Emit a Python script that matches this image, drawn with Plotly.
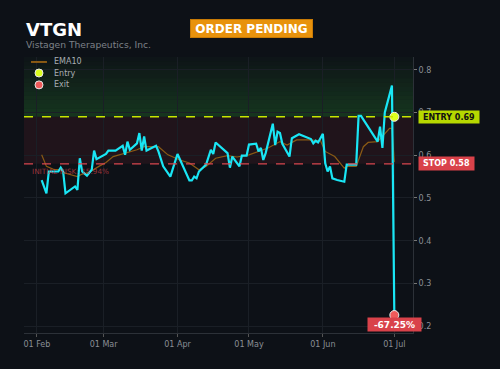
import plotly.graph_objects as go

ticker = "VTGN"
company = "Vistagen Therapeutics, Inc."
status = "ORDER PENDING"
entry_price = 0.69
stop_price = 0.58
exit_price = 0.226
exit_pct = "-67.25%"
risk_text = "INITIAL RISK: 15.94%"
entry_date = "2022-07-01"
exit_date = "2022-07-01"
legend_names = ["EMA10", "Entry", "Exit"]

price_dates = [
    "2022-02-03", "2022-02-05", "2022-02-06", "2022-02-10", "2022-02-11", "2022-02-12",
    "2022-02-13", "2022-02-17", "2022-02-18", "2022-02-19", "2022-02-20", "2022-02-21",
    "2022-02-22", "2022-02-24", "2022-02-25", "2022-02-26", "2022-02-28", "2022-03-02",
    "2022-03-03", "2022-03-06", "2022-03-09", "2022-03-10", "2022-03-11", "2022-03-12",
    "2022-03-15", "2022-03-16", "2022-03-17", "2022-03-18", "2022-03-19", "2022-03-23",
    "2022-03-24", "2022-03-26", "2022-03-29", "2022-04-01", "2022-04-06", "2022-04-07",
    "2022-04-08", "2022-04-09", "2022-04-10", "2022-04-13", "2022-04-15", "2022-04-16",
    "2022-04-17", "2022-04-21", "2022-04-22", "2022-04-23", "2022-04-24", "2022-04-27",
    "2022-04-28", "2022-04-30", "2022-05-01", "2022-05-04", "2022-05-05", "2022-05-06",
    "2022-05-07", "2022-05-08", "2022-05-11", "2022-05-12", "2022-05-13", "2022-05-14",
    "2022-05-15", "2022-05-18", "2022-05-19", "2022-05-22", "2022-05-24", "2022-05-27",
    "2022-05-28", "2022-05-29", "2022-05-30", "2022-06-01", "2022-06-02", "2022-06-03",
    "2022-06-04", "2022-06-05", "2022-06-07", "2022-06-10", "2022-06-11", "2022-06-15",
    "2022-06-16", "2022-06-17", "2022-06-24", "2022-06-25", "2022-06-26", "2022-06-27",
    "2022-06-30", "2022-07-01",
]
price_values = [
    0.542, 0.511, 0.562, 0.562, 0.571, 0.562,
    0.511, 0.527, 0.519, 0.593, 0.562, 0.558,
    0.552, 0.566, 0.611, 0.591, 0.597, 0.603,
    0.611, 0.611, 0.622, 0.601, 0.632, 0.613,
    0.628, 0.652, 0.611, 0.644, 0.611, 0.622,
    0.609, 0.574, 0.550, 0.603, 0.541, 0.541,
    0.550, 0.546, 0.562, 0.578, 0.613, 0.603,
    0.630, 0.609, 0.605, 0.571, 0.597, 0.574,
    0.599, 0.599, 0.625, 0.627, 0.609, 0.617,
    0.589, 0.605, 0.674, 0.624, 0.655, 0.652,
    0.627, 0.597, 0.640, 0.649, 0.644, 0.638,
    0.628, 0.634, 0.630, 0.650, 0.581, 0.562,
    0.574, 0.546, 0.542, 0.538, 0.578, 0.578,
    0.692, 0.692, 0.632, 0.667, 0.617, 0.700,
    0.763, 0.226,
]

ema_dates = [
    "2022-02-03", "2022-02-05", "2022-02-08", "2022-02-11", "2022-02-13", "2022-02-18",
    "2022-02-20", "2022-02-23", "2022-02-27", "2022-03-02", "2022-03-05", "2022-03-10",
    "2022-03-15", "2022-03-18", "2022-03-24", "2022-03-28", "2022-04-02", "2022-04-06",
    "2022-04-10", "2022-04-13", "2022-04-17", "2022-04-22", "2022-04-26", "2022-05-01",
    "2022-05-05", "2022-05-09", "2022-05-14", "2022-05-17", "2022-05-21", "2022-05-26",
    "2022-05-31", "2022-06-02", "2022-06-06", "2022-06-10", "2022-06-11", "2022-06-15",
    "2022-06-18", "2022-06-20", "2022-06-24", "2022-06-29", "2022-06-30", "2022-07-01",
]
ema_values = [
    0.601, 0.574, 0.567, 0.566, 0.558, 0.550,
    0.556, 0.560, 0.574, 0.583, 0.597, 0.605,
    0.613, 0.620, 0.620, 0.601, 0.589, 0.582,
    0.566, 0.574, 0.593, 0.599, 0.596, 0.601,
    0.609, 0.617, 0.632, 0.624, 0.636, 0.636,
    0.634, 0.609, 0.597, 0.570, 0.574, 0.574,
    0.620, 0.630, 0.632, 0.663, 0.663, 0.584,
]

y_ticks = [0.2, 0.3, 0.4, 0.5, 0.6, 0.7, 0.8]
x_ticks = ["2022-02-01", "2022-03-01", "2022-04-01", "2022-05-01", "2022-06-01", "2022-07-01"]
x_tick_labels = ["01 Feb", "01 Mar", "01 Apr", "01 May", "01 Jun", "01 Jul"]

BG = "#0d1117"
FONT = "DejaVu Sans"
Y_MIN, Y_MAX = 0.184, 0.83
EMA_COLOR = "#8a5a14"
PRICE_COLOR = "#19e6f5"
ENTRY_COLOR = "#ddff1e"
EXIT_COLOR = "#f05a5a"

fig = go.Figure()

# Shaded zones
n_bands = 14
for i in range(n_bands):
    y0 = entry_price + (Y_MAX - entry_price) * i / n_bands
    y1 = entry_price + (Y_MAX - entry_price) * (i + 1) / n_bands
    op = 0.36 - 0.32 * i / (n_bands - 1)
    fig.add_shape(type="rect", xref="paper", x0=0, x1=1, yref="y", y0=y0, y1=y1,
                  fillcolor=f"rgba(40,120,45,{op:.3f})", line_width=0, layer="below")
fig.add_shape(type="rect", xref="paper", x0=0, x1=1, yref="y", y0=stop_price, y1=entry_price,
              fillcolor="rgba(120,40,50,0.18)", line_width=0, layer="below")

fig.add_shape(type="line", xref="paper", x0=0, x1=1, yref="y", y0=entry_price, y1=entry_price,
              line=dict(color="#c8e600", width=1.4, dash="dash"))
fig.add_shape(type="line", xref="paper", x0=0, x1=1, yref="y", y0=stop_price, y1=stop_price,
              line=dict(color="#d9474f", width=1.2, dash="dash"))

fig.add_trace(go.Scatter(x=ema_dates, y=ema_values, mode="lines", name=legend_names[0],
                         line=dict(color=EMA_COLOR, width=1.2), showlegend=False))
fig.add_trace(go.Scatter(x=price_dates, y=price_values, mode="lines", name="Price",
                         line=dict(color=PRICE_COLOR, width=2.2), showlegend=False))
fig.add_trace(go.Scatter(x=[entry_date], y=[entry_price], mode="markers", name=legend_names[1],
                         showlegend=False,
                         marker=dict(color=ENTRY_COLOR, size=9, line=dict(color="#f0f0f0", width=1))))
fig.add_trace(go.Scatter(x=[exit_date], y=[exit_price], mode="markers", name=legend_names[2],
                         showlegend=False,
                         marker=dict(color=EXIT_COLOR, size=9, line=dict(color="#f0f0f0", width=1))))

# Compact legend drawn in paper coordinates
leg_y = [0.982, 0.942, 0.899]
fig.add_shape(type="line", xref="paper", yref="paper", x0=0.018, x1=0.059, y0=leg_y[0], y1=leg_y[0],
              line=dict(color=EMA_COLOR, width=2))
for yy, col in [(leg_y[1], ENTRY_COLOR), (leg_y[2], EXIT_COLOR)]:
    fig.add_shape(type="circle", xref="paper", yref="paper", xsizemode="pixel", ysizemode="pixel",
                  xanchor=0.0386, yanchor=yy, x0=-4, x1=4, y0=-4, y1=4,
                  fillcolor=col, line=dict(color="#e8e8e8", width=1))
for yy, name in zip(leg_y, legend_names):
    fig.add_annotation(xref="paper", yref="paper", x=0.072, y=yy, xanchor="left", yanchor="middle",
                       text=name, showarrow=False,
                       font=dict(family=FONT, size=8, color="#a9adb2"))

# Title texts
fig.add_annotation(xref="paper", yref="paper", x=0.0, y=1.1, xanchor="left", yanchor="middle",
                   text=f"<b>{ticker}</b>", showarrow=False,
                   font=dict(family=FONT, size=18, color="white"))
fig.add_annotation(xref="paper", yref="paper", x=0.0, y=1.046, xanchor="left", yanchor="middle",
                   text=company, showarrow=False,
                   font=dict(family=FONT, size=9.2, color="#7d8187"))
fig.add_annotation(xref="paper", yref="paper", x=0.586, y=1.103, xanchor="center", yanchor="middle",
                   text=f"<b>{status}</b>", showarrow=False, bgcolor="#e8920c",
                   bordercolor="#c77a06", borderwidth=1,
                   width=119, height=15, borderpad=1,
                   font=dict(family=FONT, size=12, color="white"))

# Right-side labels
fig.add_annotation(xref="paper", yref="y", x=1.012, y=entry_price, xanchor="left", yanchor="middle",
                   text=f"<b>ENTRY {entry_price:.2f}</b>", showarrow=False, bgcolor="#b6d800",
                   width=58, height=10, borderpad=1,
                   font=dict(family=FONT, size=8, color="#111"))
fig.add_annotation(xref="paper", yref="y", x=1.012, y=stop_price, xanchor="left", yanchor="middle",
                   text=f"<b>STOP {stop_price:.2f}</b>", showarrow=False, bgcolor="#d9424a",
                   width=53, height=11, borderpad=1,
                   font=dict(family=FONT, size=8, color="white"))
fig.add_annotation(xref="x", yref="y", x=exit_date, y=exit_price, xanchor="center", yanchor="top",
                   yshift=-2, text=f"<b>{exit_pct}</b>", showarrow=False, bgcolor="#d9424a",
                   width=51, height=11, borderpad=1,
                   font=dict(family=FONT, size=9, color="white"))
fig.add_annotation(xref="paper", yref="y", x=0.016, y=stop_price, xanchor="left", yanchor="top",
                   yshift=-1, text=risk_text, showarrow=False,
                   font=dict(family=FONT, size=7.3, color="rgba(217,66,74,0.7)"))

fig.update_layout(
    width=500, height=369,
    margin=dict(l=24, r=87, t=57, b=36),
    paper_bgcolor=BG, plot_bgcolor=BG,
    font=dict(family=FONT, color="#8b8f95", size=8),
    showlegend=False,
)
fig.update_xaxes(range=["2022-01-26 14:00", "2022-07-08 20:00"], tickvals=x_ticks,
                 ticktext=x_tick_labels, showgrid=True, gridcolor="#1a1f26", gridwidth=1,
                 showline=True, linecolor="#2c3138", ticks="outside", tickcolor="#555",
                 ticklen=3, zeroline=False, tickfont=dict(size=8, color="#8b8f95"))
fig.update_yaxes(range=[Y_MIN, Y_MAX], side="right", tickvals=y_ticks,
                 showgrid=True, gridcolor="#1a1f26", gridwidth=1, showline=True,
                 linecolor="#2c3138", ticks="outside", tickcolor="#777", ticklen=3,
                 zeroline=False, tickfont=dict(size=8, color="#8b8f95"))

fig.write_html("out.html")
